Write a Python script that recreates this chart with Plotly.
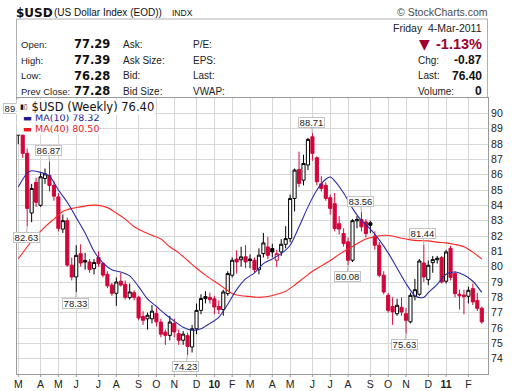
import plotly.graph_objects as go
import pandas as pd

# ---------------- data (weekly bars, dated by week start) ----------------
weeks = [(pd.Timestamp("2009-03-02") + pd.Timedelta(weeks=i)).strftime("%Y-%m-%d") for i in range(105)]

open_ = [88.58, 88.58, 87.39, 83.50, 85.50, 84.00, 85.75, 85.95, 85.30, 84.55,
         82.45, 83.00, 80.10, 79.33, 80.85, 80.40, 80.30, 79.87, 80.60, 80.20,
         79.50, 78.80, 78.26, 79.05, 78.85, 77.98, 78.30, 78.00, 76.75, 76.60,
         76.60, 76.95, 76.39, 75.73, 75.52, 76.30, 75.63, 75.20, 75.50, 74.76,
         75.95, 77.15, 77.92, 78.00, 77.90, 77.40, 77.20, 78.24, 79.44, 80.50,
         80.45, 80.64, 80.50, 80.42, 79.80, 80.85, 81.29, 81.18, 80.42, 80.96,
         81.46, 81.83, 84.45, 86.34, 85.64, 86.63, 88.47, 87.10, 85.40, 85.30,
         84.50, 84.10, 82.80, 82.16, 81.62, 80.42, 82.99, 83.08, 82.92, 82.86,
         82.00, 81.40, 79.44, 78.13, 77.40, 76.93, 77.35, 76.93, 76.40, 78.07,
         78.20, 80.24, 79.15, 80.26, 80.45, 80.59, 79.05, 81.20, 79.55, 78.20,
         78.15, 78.07, 78.57, 77.80, 77.29]
high = [89.62, 88.90, 87.70, 85.40, 85.80, 86.10, 86.40, 86.87, 85.60, 84.80,
        83.40, 83.20, 80.60, 81.40, 81.46, 80.90, 80.50, 80.50, 81.00, 80.30,
        79.70, 78.95, 79.30, 79.60, 79.10, 78.90, 78.45, 78.10, 77.10, 77.00,
        77.50, 77.30, 76.60, 75.90, 76.80, 76.60, 75.90, 75.80, 75.70, 76.20,
        77.60, 78.20, 78.40, 78.30, 78.10, 77.80, 78.50, 79.70, 80.60, 81.07,
        81.30, 81.40, 80.80, 80.60, 81.20, 82.20, 81.94, 81.50, 81.10, 81.80,
        82.64, 84.70, 86.40, 87.50, 87.30, 88.40, 88.71, 87.20, 85.90, 85.50,
        84.70, 84.80, 83.30, 82.50, 81.90, 83.10, 83.30, 83.56, 83.10, 83.00,
        82.30, 81.60, 79.70, 78.30, 78.00, 77.90, 78.00, 77.30, 78.30, 79.20,
        80.50, 81.44, 80.40, 80.70, 80.70, 80.70, 81.10, 81.35, 79.70, 78.50,
        78.50, 78.70, 78.90, 78.30, 77.39]
low = [88.00, 87.10, 82.63, 82.90, 83.90, 83.90, 85.40, 84.90, 84.30, 82.30,
       82.20, 80.00, 79.10, 78.33, 80.00, 79.80, 79.60, 79.50, 80.00, 79.30,
       78.60, 78.10, 77.45, 78.70, 77.85, 77.85, 77.80, 76.50, 76.20, 75.90,
       76.30, 76.10, 75.40, 74.90, 75.20, 75.40, 74.90, 74.90, 74.23, 74.40,
       75.60, 76.90, 77.60, 77.60, 76.90, 76.90, 76.80, 78.10, 79.30, 79.55,
       80.00, 79.90, 79.90, 79.60, 79.50, 80.60, 80.50, 80.60, 79.98, 80.70,
       81.20, 81.60, 83.60, 85.20, 85.30, 86.30, 86.90, 85.30, 84.90, 84.30,
       83.40, 82.30, 82.10, 81.30, 80.08, 80.30, 82.50, 82.30, 81.90, 82.20,
       81.10, 79.30, 78.20, 77.00, 76.20, 76.80, 76.80, 75.63, 76.30, 77.80,
       78.10, 79.00, 78.80, 79.60, 80.20, 78.90, 78.90, 79.10, 78.00, 77.20,
       76.90, 77.60, 77.50, 77.10, 76.28]
close = [89.20, 87.39, 83.80, 85.10, 84.20, 85.86, 86.05, 85.30, 84.60, 82.50,
         83.00, 80.10, 79.33, 80.74, 80.24, 80.30, 79.81, 80.27, 80.20, 79.45,
         78.75, 78.26, 79.00, 78.80, 78.00, 78.35, 78.00, 76.65, 76.50, 76.83,
         77.10, 76.40, 75.60, 75.52, 76.39, 75.74, 75.20, 75.60, 74.80, 75.95,
         77.15, 77.92, 78.05, 77.85, 77.37, 77.20, 78.35, 79.55, 80.42, 80.31,
         80.64, 80.31, 80.40, 79.81, 80.75, 81.55, 80.74, 80.96, 80.85, 81.46,
         81.83, 84.45, 86.30, 85.43, 86.73, 88.30, 87.39, 85.54, 85.10, 84.45,
         83.80, 82.49, 82.45, 81.51, 80.42, 83.00, 83.08, 82.60, 82.16, 82.70,
         81.40, 79.44, 78.35, 77.15, 77.05, 77.48, 77.04, 76.50, 78.13, 78.50,
         80.37, 79.33, 80.09, 80.46, 80.55, 79.00, 80.96, 79.30, 78.24, 78.10,
         78.05, 78.46, 77.70, 77.28, 76.40]

ma10_idx = [0, 2, 3, 5, 7, 9, 11, 13, 15, 17, 19, 21, 23, 25, 27, 29, 31, 33, 35, 37,
            39, 41, 43, 45, 47, 49, 51, 53, 55, 57, 59, 61, 63, 65, 67, 69, 70, 71, 73, 75,
            77, 79, 81, 83, 85, 87, 89, 90, 91, 92, 94, 96, 98, 100, 102, 104]
ma10_val = [85.2, 86.1, 86.25, 86.15, 85.9, 85.0, 84.2, 83.2, 82.2, 81.0, 80.25, 79.8, 79.65, 79.4,
            78.7, 77.9, 77.4, 76.9, 76.45, 76.05, 75.85, 75.95, 76.3, 76.7, 77.55, 78.5, 79.2,
            79.6, 80.2, 80.5, 80.85, 81.4, 82.6, 83.9, 85.0, 85.7, 85.85, 85.6, 84.8, 83.8,
            83.0, 82.45, 81.75, 80.9, 79.9, 78.9, 78.1, 77.98, 78.0, 78.3, 78.85, 79.5, 79.65,
            79.45, 79.05, 78.32]

ma40_idx = [0, 2, 4, 6, 8, 10, 12, 14, 16, 18, 20, 22, 24, 26, 28, 30, 32, 34, 36, 38,
            40, 42, 44, 46, 48, 50, 52, 54, 56, 58, 60, 62, 64, 66, 68, 70, 72, 74, 76, 78,
            80, 82, 84, 86, 88, 90, 92, 94, 96, 98, 100, 102, 104]
ma40_val = [80.5, 81.3, 82.0, 82.6, 83.1, 83.6, 83.8, 83.9, 84.0, 84.0, 83.85, 83.5, 83.1, 82.6,
            82.3, 82.05, 81.8, 81.3, 80.9, 80.4, 79.9, 79.45, 79.05, 78.65, 78.25, 78.1, 78.05,
            78.0, 78.05, 78.2, 78.4, 78.8, 79.25, 79.7, 80.05, 80.4, 80.8, 81.15, 81.5, 81.8,
            81.95, 82.05, 82.0, 81.85, 81.75, 81.7, 81.68, 81.6, 81.55, 81.45, 81.3, 80.95, 80.5]

# price call-outs: (week index, price, label text)
highs_marked = [(0, 89.62, "89.62"), (7, 86.87, "86.87"), (66, 88.71, "88.71"),
                (77, 83.56, "83.56"), (91, 81.44, "81.44")]
lows_marked = [(2, 82.63, "82.63"), (13, 78.33, "78.33"), (38, 74.23, "74.23"),
               (74, 80.08, "80.08"), (87, 75.63, "75.63")]

y_ticks = list(range(74, 91))
month_letters = ["J", "F", "M", "A", "M", "J", "J", "A", "S", "O", "N", "D"]

# ---------------- styling ----------------
W, H = 520, 391
ML, MR, MT, MB = 17, 32, 98, 17
RED = "#d0063a"
BLUE = "#2b2ba6"
MA40C = "#ff2424"
GRID = "#d7d7d7"
FRAME = "#9a9a9a"
LBL = "Liberation Sans"
VER = "DejaVu Sans"


def ppx(x):
    return (x - ML) / (W - ML - MR)


def ppy(y):
    return (H - MB - y) / (H - MT - MB)


n = len(weeks)
black_idx = [i for i in range(n) if i == 0 or close[i] >= close[i - 1]]
red_idx = [i for i in range(n) if not (i == 0 or close[i] >= close[i - 1])]


def candles(idx, col):
    return go.Candlestick(
        x=[weeks[i] for i in idx],
        open=[open_[i] for i in idx], high=[high[i] for i in idx],
        low=[low[i] for i in idx], close=[close[i] for i in idx],
        increasing=dict(line=dict(color=col, width=1), fillcolor="white"),
        decreasing=dict(line=dict(color=col, width=1), fillcolor=col),
        whiskerwidth=0, hoverinfo="skip", showlegend=False)


fig = go.Figure()
fig.add_trace(go.Scatter(x=[weeks[i] for i in ma40_idx], y=ma40_val, mode="lines",
                         line=dict(color=MA40C, width=1.1, shape="spline", smoothing=0.8),
                         hoverinfo="skip", showlegend=False))
fig.add_trace(candles(black_idx, "#000000"))
fig.add_trace(candles(red_idx, RED))
fig.add_trace(go.Scatter(x=[weeks[i] for i in ma10_idx], y=ma10_val, mode="lines",
                         line=dict(color=BLUE, width=1.1, shape="spline", smoothing=0.8),
                         hoverinfo="skip", showlegend=False))

# month ticks at first weekly bar of each month
tickvals, ticktext = [], []
for i, w in enumerate(weeks):
    d = pd.Timestamp(w)
    if i == 0 or d.month != pd.Timestamp(weeks[i - 1]).month:
        tickvals.append(w)
        ticktext.append("<b>%s</b>" % str(d.year)[2:] if d.month == 1 else month_letters[d.month - 1])

x0 = (pd.Timestamp(weeks[0]) - pd.Timedelta(days=2)).strftime("%Y-%m-%d %H:%M")
x1 = (pd.Timestamp(weeks[-1]) + pd.Timedelta(hours=235)).strftime("%Y-%m-%d %H:%M")

ann = []

# price labels
for idx, val, txt in highs_marked:
    ann.append(dict(x=weeks[idx], y=val, xref="x", yref="y", text=txt, showarrow=True,
                    arrowhead=0, arrowwidth=1, arrowcolor="#b5b5b5",
                    ax=(-2 if idx == 0 else -1), ay=-11, bgcolor="white", bordercolor="#c4c4c4",
                    borderwidth=1, borderpad=0, width=25, height=9,
                    font=dict(family=LBL, size=9.5, color="#222")))
for idx, val, txt in lows_marked:
    ann.append(dict(x=weeks[idx], y=val, xref="x", yref="y", text=txt, showarrow=True,
                    arrowhead=0, arrowwidth=1, arrowcolor="#b5b5b5",
                    ax=(-2 if idx in (38, 87) else -1), ay=11, bgcolor="white", bordercolor="#c4c4c4",
                    borderwidth=1, borderpad=0, width=25, height=9,
                    font=dict(family=LBL, size=9.5, color="#222")))


def txt(x, y, s, size=10, color="#222", family=LBL, anchor="left", bg=None, pad=0):
    d = dict(xref="paper", yref="paper", x=ppx(x), y=ppy(y), text=s, showarrow=False,
             xanchor=anchor, yanchor="middle", borderpad=pad,
             font=dict(size=size, color=color, family=family))
    if bg:
        d["bgcolor"] = bg
    ann.append(d)


# chart legend (top-left, white background)
txt(15.5, 128.5, "\u00a0\u00a0\u25ac MA(40) 80.50", size=9.5, color="#e81818", family=VER, bg="white", pad=0)
txt(15.5, 117.5, "\u00a0\u00a0\u25ac MA(10) 78.32", size=9.5, color="#1c1c8e", family=VER, bg="white", pad=0)
txt(15.5, 106.5, "\u00a0\u00a0\u00a0\u00a0$USD (Weekly) 76.40", size=11.5, color="#111", family=VER, bg="white", pad=0)
txt(18.5, 106.5, "\u25ae\u25af", size=7, color="#111", family=VER)

# title row
txt(15, 12.5, "<b>$USD</b>", size=12, color="#111", family=VER)
txt(53, 13, "(US Dollar Index (EOD))", size=10, color="#111")
txt(171, 13, "INDX", size=8.5, color="#111")
txt(489, 11.5, "\u00a9 StockCharts.com", size=10.5, color="#4a4a4a", anchor="right")

# quote box, left part
rows_y = [44, 60, 75.5, 91]
for y, a, v, b, c in zip(rows_y,
                         ["Open:", "High:", "Low:", "Prev Close:"],
                         ["77.29", "77.39", "76.28", "77.28"],
                         ["Ask:", "Ask Size:", "Bid:", "Bid Size:"],
                         ["P/E:", "EPS:", "Last:", "VWAP:"]):
    txt(20, y, a, size=9.5)
    txt(72.5, y, "<b>%s</b>" % v, size=11.5, color="#111", family=VER)
    txt(122, y, b)
    txt(192, y, c)

# quote box, right part
txt(483, 27.5, "Friday\u00a0\u00a04-Mar-2011", size=10.5, anchor="right")
txt(418, 44, "\u25bc", size=14, color="#9c0030", family=VER)
txt(483, 44, "<b>-1.13%</b>", size=14.5, color="#9c0030", anchor="right")
for y, a, v in zip(rows_y[1:], ["Chg:", "Last:", "Volume:"], ["-0.87", "76.40", "0"]):
    txt(417, y, a)
    txt(483, y, "<b>%s</b>" % v, size=12, color="#111", anchor="right")

shapes = [dict(type="rect", xref="paper", yref="paper", x0=ppx(16.5), x1=ppx(487.5),
               y0=ppy(97.5), y1=ppy(19), line=dict(color="#b0b0b0", width=1), layer="below")]
# small month tick marks under the time axis
for tv in tickvals:
    shapes.append(dict(type="line", xref="x", yref="paper", x0=tv, x1=tv, y0=0, y1=-3 / (H - MT - MB),
                       line=dict(color=FRAME, width=1)))

fig.update_layout(
    width=W, height=H, autosize=False,
    margin=dict(l=ML, r=MR, t=MT, b=MB, pad=0, autoexpand=False),
    paper_bgcolor="white", plot_bgcolor="white", showlegend=False,
    boxgap=0.22, boxgroupgap=0.1,
    xaxis=dict(type="date", range=[x0, x1], tickvals=tickvals, ticktext=ticktext,
               showgrid=True, gridcolor=GRID, gridwidth=1, showline=True, mirror=True,
               linecolor=FRAME, linewidth=1, ticks="",
               tickfont=dict(family=LBL, size=10.5, color="#222"), automargin=False,
               rangeslider=dict(visible=False), fixedrange=True, zeroline=False),
    yaxis=dict(range=[73, 91], tickvals=y_ticks, side="right", showgrid=True, gridcolor=GRID,
               gridwidth=1, showline=True, mirror=True, linecolor=FRAME, linewidth=1,
               ticks="", tickfont=dict(family=LBL, size=10.5, color="#222"), automargin=False,
               zeroline=False, fixedrange=True),
    annotations=ann, shapes=shapes,
)

fig.write_html("out.html", config={"displayModeBar": False},
               post_script="document.body.style.margin='0';document.body.style.padding='0';")
